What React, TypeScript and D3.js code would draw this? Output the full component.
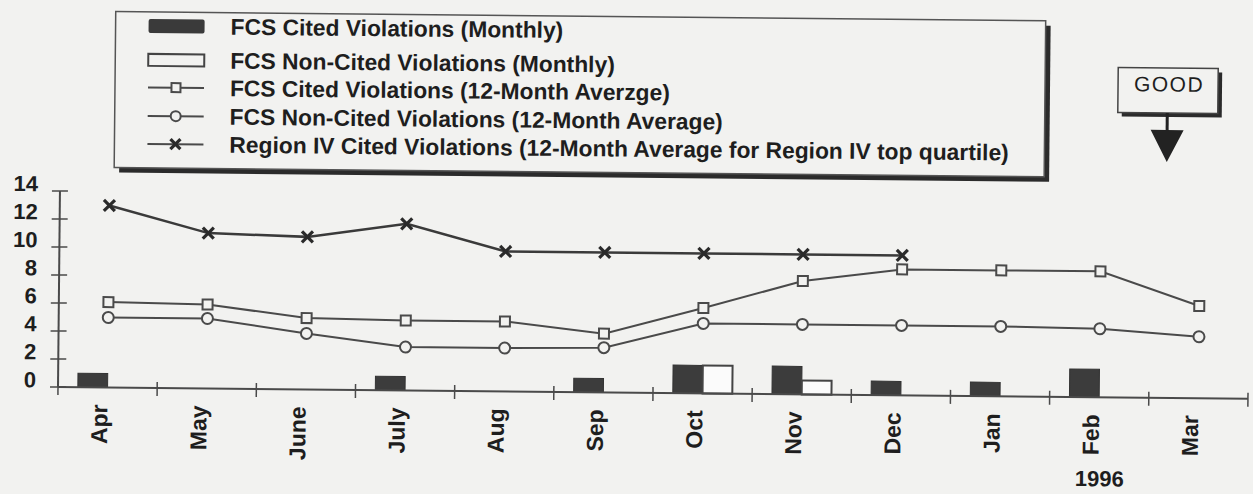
import React from "react";
import * as d3 from "d3";

const months = ["Apr", "May", "June", "July", "Aug", "Sep", "Oct", "Nov", "Dec", "Jan", "Feb", "Mar"];
const citedMonthly = [1, 0, 0, 1, 0, 1, 2, 2, 1, 1, 2, 0];
const nonCitedMonthly = [0, 0, 0, 0, 0, 0, 2, 1, 0, 0, 0, 0];
const citedAvg = [6.1, 6.0, 5.1, 5.0, 5.0, 4.2, 6.1, 8.1, 9.0, 9.0, 9.0, 6.6];
const nonCitedAvg = [5.0, 5.0, 4.0, 3.1, 3.1, 3.2, 5.0, 5.0, 5.0, 5.0, 4.9, 4.4];
const regionMonths = ["Apr", "May", "June", "July", "Aug", "Sep", "Oct", "Nov", "Dec"];
const regionIV = [13, 11.1, 10.9, 11.9, 10, 10, 10, 10, 10];
const yTicks = [0, 2, 4, 6, 8, 10, 12, 14];
const legendLabels = [
  "FCS Cited Violations (Monthly)",
  "FCS Non-Cited Violations (Monthly)",
  "FCS Cited Violations (12-Month Averzge)",
  "FCS Non-Cited Violations (12-Month Average)",
  "Region IV Cited Violations (12-Month Average for Region IV top quartile)",
];
const yearLabel = "1996";
const yearMonth = "Feb";
const goodLabel = "GOOD";

const W = 1253;
const H = 494;
const FONT = "'Liberation Sans', Arial, Helvetica, sans-serif";
const INK = "#1e1e1e";
const LINE = "#4a4a4a";
const BG = "#f2f2f0";

export default function App() {
  const x = d3.scaleBand<string>().domain(months).range([58, 1248]).padding(0);
  const y = d3.scaleLinear().domain([0, 14]).range([387, 191]);
  const bw = x.bandwidth();
  const cx = (m: string) => (x(m) as number) + bw / 2;
  const barW = bw * 0.3;

  const line = d3
    .line<[string, number]>()
    .x((d) => cx(d[0]))
    .y((d) => y(d[1]));

  const citedPts: [string, number][] = months.map((m, i) => [m, citedAvg[i]]);
  const nonCitedPts: [string, number][] = months.map((m, i) => [m, nonCitedAvg[i]]);
  const regionPts: [string, number][] = regionMonths.map((m, i) => [m, regionIV[i]]);

  const square = (px: number, py: number, k: string, s = 10) => (
    <rect key={k} x={px - s / 2} y={py - s / 2} width={s} height={s} fill={BG} stroke={LINE} strokeWidth={2} />
  );
  const circle = (px: number, py: number, k: string, r = 5.5) => (
    <circle key={k} cx={px} cy={py} r={r} fill={BG} stroke={LINE} strokeWidth={2} />
  );
  const cross = (px: number, py: number, k: string, s = 5.5) => (
    <g key={k} stroke="#2a2a2a" strokeWidth={3.2}>
      <line x1={px - s} y1={py - s} x2={px + s} y2={py + s} />
      <line x1={px - s} y1={py + s} x2={px + s} y2={py - s} />
    </g>
  );

  const ticksX = d3.range(months.length + 1).map((i) => 58 + i * bw);

  const legendRows = [25, 59, 86.5, 115, 143];
  const lgX0 = 145;
  const lgX1 = 201;
  const lgMid = (lgX0 + lgX1) / 2;

  return (
    <svg
      width={W}
      height={H}
      style={{ position: "absolute", left: 0, top: 0, background: BG }}
      fontFamily={FONT}
    >
      <rect x={0} y={0} width={W} height={H} fill={BG} />
      <g transform="rotate(0.57 58 387)">
        {/* Legend box */}
        <rect x={117} y={16} width={930} height={156} fill="#2b2b2b" />
        <rect x={112} y={11} width={930} height={156} fill={BG} stroke="#555" strokeWidth={1.5} />
        {legendLabels.map((t, i) => (
          <text
            key={t}
            x={227}
            y={legendRows[i]}
            dominantBaseline="central"
            fontSize={22.8}
            fontWeight="bold"
            fill={INK}
          >
            {t}
          </text>
        ))}
        <rect x={lgX0} y={legendRows[0] - 7} width={lgX1 - lgX0} height={14} fill="#3a3a3a" rx={2} />
        <rect x={lgX0} y={legendRows[1] - 6} width={lgX1 - lgX0} height={12} fill={BG} stroke="#444" strokeWidth={2} />
        {[2, 3, 4].map((i) => (
          <line key={i} x1={lgX0} x2={lgX1} y1={legendRows[i]} y2={legendRows[i]} stroke={LINE} strokeWidth={2} />
        ))}
        {square(lgMid, legendRows[2], "ls", 9)}
        {circle(lgMid, legendRows[3], "lc", 5)}
        {cross(lgMid, legendRows[4], "lx", 5)}

        {/* GOOD box */}
        <rect x={1119} y={61} width={100} height={45} fill="#2b2b2b" />
        <rect x={1115} y={57} width={100} height={45} fill={BG} stroke="#444" strokeWidth={1.5} />
        <text x={1166} y={73} textAnchor="middle" dominantBaseline="central" fontSize={21} letterSpacing={1.5} fill={INK}>
          {goodLabel}
        </text>
        <line x1={1164.5} x2={1164.5} y1={102} y2={121} stroke="#222" strokeWidth={3} />
        <path d="M1148,119 L1181,119 L1164.5,151 Z" fill="#222" />

        {/* Axes */}
        <line x1={58} x2={58} y1={y(14)} y2={y(0)} stroke={LINE} strokeWidth={2} />
        {yTicks.map((t) => (
          <g key={t}>
            <line x1={50} x2={66} y1={y(t)} y2={y(t)} stroke={LINE} strokeWidth={1.5} />
            <text
              x={36}
              y={y(t) - 7}
              textAnchor="end"
              dominantBaseline="central"
              fontSize={22}
              fontWeight="bold"
              fill={INK}
            >
              {t}
            </text>
          </g>
        ))}

        {/* Bars */}
        {months.map((m, i) =>
          citedMonthly[i] > 0 ? (
            <rect
              key={"c" + m}
              x={cx(m) - barW}
              y={y(citedMonthly[i])}
              width={barW}
              height={y(0) - y(citedMonthly[i])}
              fill="#3c3c3c"
              stroke="#333"
              strokeWidth={1}
            />
          ) : null
        )}
        {months.map((m, i) =>
          nonCitedMonthly[i] > 0 ? (
            <rect
              key={"n" + m}
              x={cx(m)}
              y={y(nonCitedMonthly[i])}
              width={barW}
              height={y(0) - y(nonCitedMonthly[i])}
              fill="#fbfbfb"
              stroke="#444"
              strokeWidth={2}
            />
          ) : null
        )}

        <line x1={58} x2={1248} y1={y(0)} y2={y(0)} stroke={LINE} strokeWidth={2} />
        {ticksX.map((tx, i) => (
          <line key={i} x1={tx} x2={tx} y1={y(0) - 6} y2={y(0) + 8} stroke={LINE} strokeWidth={1.5} />
        ))}

        {/* Lines */}
        <path d={line(regionPts) || ""} fill="none" stroke="#3a3a3a" strokeWidth={2.5} />
        <path d={line(citedPts) || ""} fill="none" stroke={LINE} strokeWidth={2} />
        <path d={line(nonCitedPts) || ""} fill="none" stroke={LINE} strokeWidth={2} />
        {nonCitedPts.map((d) => circle(cx(d[0]), y(d[1]), "nc" + d[0]))}
        {citedPts.map((d) => square(cx(d[0]), y(d[1]), "cs" + d[0]))}
        {regionPts.map((d) => cross(cx(d[0]), y(d[1]), "rx" + d[0]))}

        {/* Month labels */}
        {months.map((m) => (
          <text
            key={"l" + m}
            transform={`translate(${cx(m)},404) rotate(-90)`}
            textAnchor="end"
            fontSize={23}
            fontWeight="bold"
            fill={INK}
          >
            {m}
          </text>
        ))}
        <text x={cx(yearMonth) + 1} y={476} textAnchor="middle" fontSize={22} fontWeight="bold" fill={INK}>
          {yearLabel}
        </text>
      </g>
    </svg>
  );
}
